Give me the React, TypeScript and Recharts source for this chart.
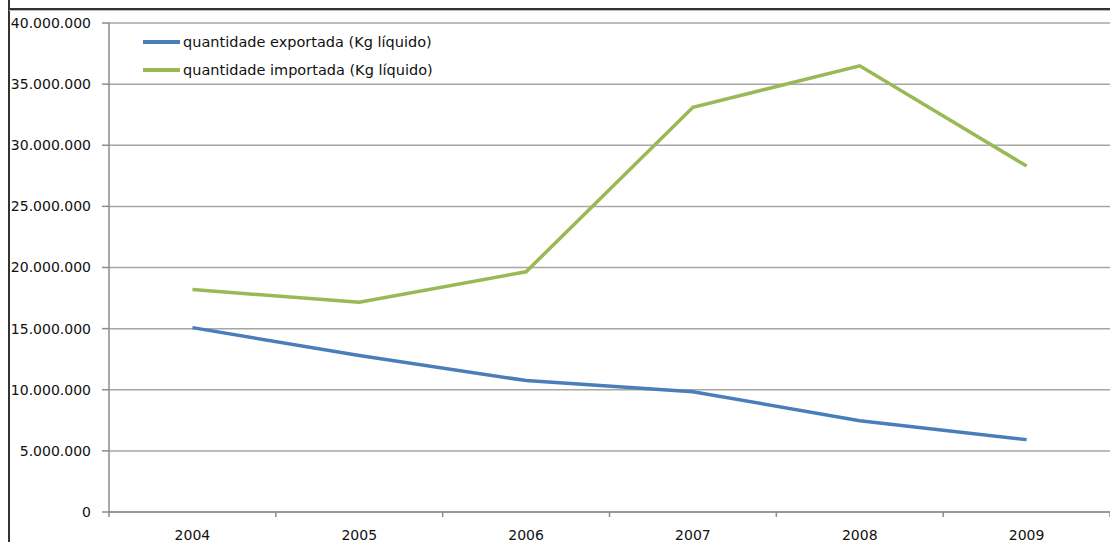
import React from "react"
import { LineChart, Line, XAxis, YAxis, CartesianGrid } from "recharts"

// dados (Kg líquido)
const anos = ["2004", "2005", "2006", "2007", "2008", "2009"]
const exportada = [15080000, 12800000, 10750000, 9840000, 7470000, 5920000]
const importada = [18200000, 17150000, 19650000, 33100000, 36500000, 28300000]
const yTicks = [0, 5000000, 10000000, 15000000, 20000000, 25000000, 30000000, 35000000, 40000000]

const series = [
  { key: "exportada", name: "quantidade exportada (Kg líquido)", color: "#4a7ebb" },
  { key: "importada", name: "quantidade importada (Kg líquido)", color: "#98b954" },
]

const data = anos.map((ano, i) => ({
  ano,
  exportada: exportada[i],
  importada: importada[i],
}))

const WIDTH = 1110
const HEIGHT = 542
const Y_AXIS_W = 109
const BAND = (WIDTH - Y_AXIS_W) / anos.length
const FONT = "'DejaVu Sans', Verdana, sans-serif"

const formatBR = (v: number) => String(v).replace(/\B(?=(\d{3})+(?!\d))/g, ".")

function YearTick(props: any) {
  const { x, y, payload, index } = props
  const left = x - BAND / 2
  return (
    <g>
      <line x1={left} x2={left} y1={y - 5} y2={y} stroke="#8c8c8c" strokeWidth={1.5} />
      {index === anos.length - 1 && (
        <line x1={x + BAND / 2} x2={x + BAND / 2} y1={y - 5} y2={y} stroke="#8c8c8c" strokeWidth={1.5} />
      )}
      <text x={x} y={y + 23} textAnchor="middle" fontSize={14} fontFamily={FONT} fill="#111">
        {payload.value}
      </text>
    </g>
  )
}

export default function App() {
  return (
    <div style={{ position: "absolute", left: 0, top: 0, width: WIDTH, height: HEIGHT, background: "#fff", overflow: "hidden" }}>
      {/* moldura da figura */}
      <div style={{ position: "absolute", left: 8, top: 0, width: 1.5, height: HEIGHT, background: "#333" }} />
      <div style={{ position: "absolute", left: 8, top: 8, width: WIDTH - 8, height: 1.5, background: "#333" }} />
      <div style={{ position: "absolute", left: 9, top: 10, width: WIDTH - 9, height: 1, background: "#bbb" }} />
      <LineChart width={WIDTH} height={HEIGHT} data={data} margin={{ top: 23, right: 0, left: 0, bottom: 0 }}>
        <CartesianGrid vertical={false} stroke="#a6a6a6" strokeWidth={1.5} />
        <XAxis
          dataKey="ano"
          scale="band"
          height={30}
          tickLine={false}
          tickSize={5}
          tickMargin={0}
          interval={0}
          axisLine={{ stroke: "#8c8c8c", strokeWidth: 1.5 }}
          tick={<YearTick />}
        />
        <YAxis
          width={Y_AXIS_W}
          domain={[0, 40000000]}
          ticks={yTicks}
          interval={0}
          tickSize={7}
          tickMargin={11}
          tickFormatter={formatBR}
          axisLine={{ stroke: "#8c8c8c", strokeWidth: 1.5 }}
          tickLine={{ stroke: "#8c8c8c", strokeWidth: 1.5 }}
          tick={{ fontSize: 14, fontFamily: FONT, fill: "#111" }}
        />
        {series.map((s) => (
          <Line
            key={s.key}
            type="linear"
            dataKey={s.key}
            name={s.name}
            stroke={s.color}
            strokeWidth={3.5}
            dot={false}
            activeDot={false}
            isAnimationActive={false}
          />
        ))}
      </LineChart>
      {/* legenda dentro da área do gráfico */}
      <div style={{ position: "absolute", left: 143, top: 28, fontFamily: FONT, fontSize: 14.5, color: "#111" }}>
        {series.map((s) => (
          <div key={s.key} style={{ display: "flex", alignItems: "center", height: 28 }}>
            <span style={{ display: "inline-block", width: 37, height: 4, background: s.color, marginRight: 3 }} />
            <span>{s.name}</span>
          </div>
        ))}
      </div>
    </div>
  )
}
